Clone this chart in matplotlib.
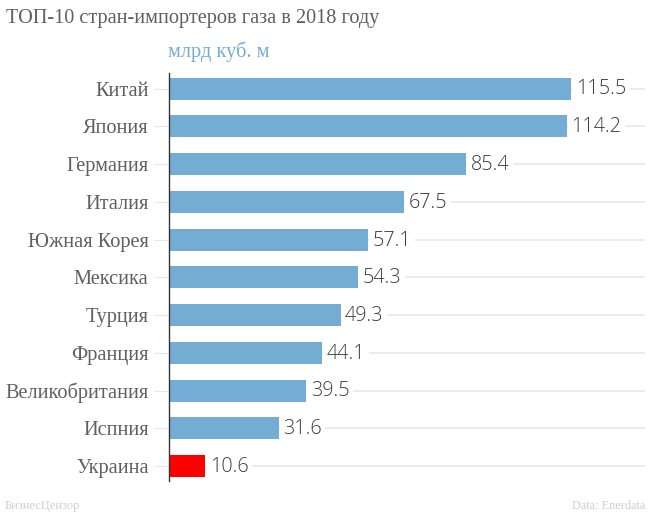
import matplotlib
matplotlib.use("Agg")
import matplotlib.pyplot as plt

countries = ["Китай", "Япония", "Германия", "Италия", "Южная Корея", "Мексика",
             "Турция", "Франция", "Великобритания", "Испния", "Украина"]
values = [115.5, 114.2, 85.4, 67.5, 57.1, 54.3, 49.3, 44.1, 39.5, 31.6, 10.6]
bar_colors = ["#74add3"] * 10 + ["#ff0000"]
title = "ТОП-10 стран-импортеров газа в 2018 году"
unit = "млрд куб. м"
source_left = "БизнесЦензор"
source_right = "Data: Enerdata"

W, H = 650, 513
fig = plt.figure(figsize=(W / 100, H / 100), dpi=100, facecolor="white")
L, R, T, B = 168.5, 645, 73, 481
ax = fig.add_axes([L / W, 1 - B / H, (R - L) / W, (B - T) / H])
ax.set_xlim(0, (R - L) / 3.489)
ax.set_ylim(10 + 15 / 37.75, -15.5 / 37.75)

pos = list(range(len(countries)))
ax.hlines(pos, 0, ax.get_xlim()[1], color="#e6e6e6", lw=1.1, zorder=1)
ax.barh(pos, values, height=22 / 37.75, color=bar_colors, zorder=2)
for y, v in zip(pos, values):
    ax.annotate(f"{v}", (v, y), xytext=(4.5, -1), textcoords="offset pixels", va="center", ha="left",
                fontsize=14.2, family="Open Sans", fontweight="light", color="#3c3c3c", zorder=3,
                bbox=dict(facecolor="white", edgecolor="none", pad=2.5))

for s in ["top", "right", "bottom"]:
    ax.spines[s].set_visible(False)
ax.spines["left"].set_color("#333333")
ax.spines["left"].set_linewidth(1.0)
ax.spines["left"].set_zorder(4)
ax.set_xticks([])
ax.set_yticks(pos)
ax.set_yticklabels(countries, family="Liberation Serif", fontsize=14.7, color="#5f5f5f")
ax.tick_params(axis="y", length=10.8, width=0.8, color="#e6e6e6", pad=3.5)

fig.text(5.5 / W, 1 - 18 / H, title, family="Liberation Serif", fontsize=14.6, color="#5f5f5f", va="center", ha="left")
fig.text(168.5 / W, 1 - 52 / H, unit, family="Liberation Serif", fontsize=14.7, color="#74add3", va="center", ha="left")
fig.text(5 / W, 1 - 506 / H, source_left, family="Liberation Serif", fontsize=9, color="#cfcfcf", va="center", ha="left")
fig.text(645 / W, 1 - 506 / H, source_right, family="Liberation Serif", fontsize=8.8, color="#cfcfcf", va="center", ha="right")

fig.savefig("out.png", dpi=100)
